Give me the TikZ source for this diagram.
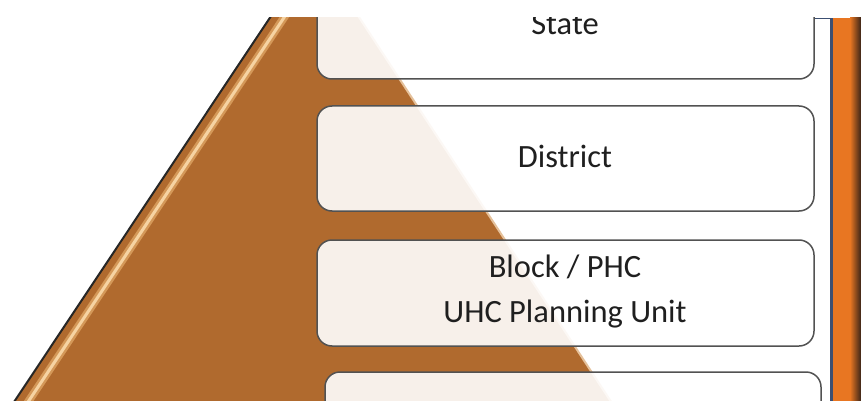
\documentclass[tikz,border=0pt]{standalone}
\usepackage{fontspec}
\setmainfont{Carlito}
\definecolor{pyrbrown}{HTML}{B06A2E}
\definecolor{pyrlight}{HTML}{F6D3A2}
\definecolor{pyrhalo}{HTML}{D49858}
\definecolor{barblue}{HTML}{3C4F72}
\definecolor{barorange}{HTML}{E87622}
\definecolor{bardark}{HTML}{3A2418}
\begin{document}
\begin{tikzpicture}[x=1pt,y=-1pt,
  boxst/.style={draw=black!68, line width=1.5pt, rounded corners=15pt, fill=white, fill opacity=0.9, inner sep=0pt},
  lbl/.style={font=\fontsize{32.5}{39}\selectfont, text=black!88, inner sep=0pt, anchor=base}]
\useasboundingbox (0,0) rectangle (861,401);
\begin{scope}
\clip (0,18) rectangle (861,401);
% pyramid
\coordinate (apex) at (315,-50);
\coordinate (bl) at (2,420);
\coordinate (br) at (623,420);
\coordinate (hlt) at (329,-50);
\coordinate (hlb) at (16,420);
\fill[pyrbrown] (apex) -- (bl) -- (br) -- cycle;
\draw[pyrhalo, line width=8pt] (hlt) -- (hlb);
\draw[pyrlight, line width=3pt] (hlt) -- (hlb);
\draw[black!85, line width=2pt] (apex) -- (bl);
\draw[pyrhalo!60!white, line width=2pt] (apex) -- (br);
% boxes
\node[boxst, minimum width=497pt, minimum height=106pt] (b1) at (565.5,26) {};
\node[boxst, minimum width=497pt, minimum height=105pt] (b2) at (565.5,158.5) {};
\node[boxst, minimum width=497pt, minimum height=106pt] (b3) at (565.5,293) {};
\node[boxst, minimum width=496pt, minimum height=106pt] (b4) at (573,425) {};
% labels
\node[lbl] (t1) at (565,35) {State};
\node[lbl] (t2) at (565,167) {District};
\node[lbl] (t3a) at (565,277) {Block / PHC};
\node[lbl] (t3b) at (565,322) {UHC Planning Unit};
% right bar
\fill[barblue] (830,18) rectangle (833,401);
\fill[barorange] (833,18) rectangle (850,401);
\shade[left color=barorange, right color=bardark] (850,18) rectangle (861,401);
\draw[barblue, line width=1pt] (815,18.5) -- (830,18.5);
\end{scope}
\end{tikzpicture}
\end{document}
